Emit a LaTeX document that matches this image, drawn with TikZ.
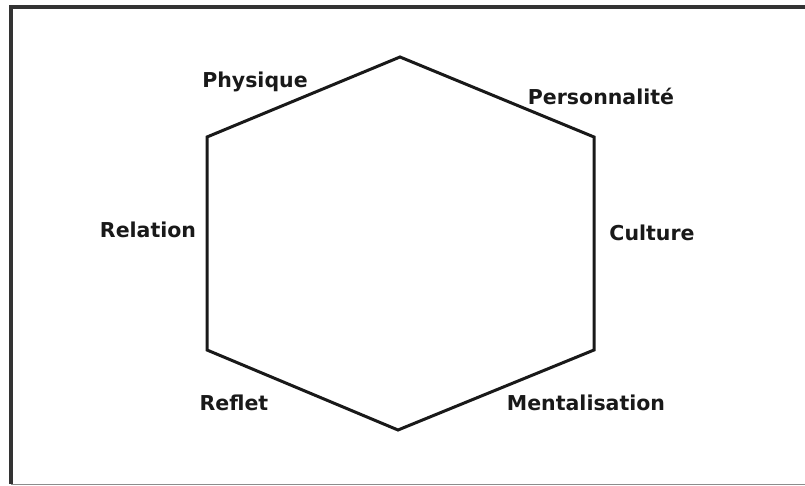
\documentclass[tikz,border=0pt]{standalone}
\usepackage{fontspec}
\setmainfont{DejaVu Sans}
\usepackage{tikz}
\usetikzlibrary{positioning}

\begin{document}
\begin{tikzpicture}[x=1pt, y=-1pt, very thick]
  \tikzset{
    label/.style={font=\bfseries\fontsize{20.5}{24}\selectfont, text=black!90, inner sep=0pt},
    hexline/.style={line width=3pt, line join=miter, draw=black!90},
  }
  \useasboundingbox (0,0) rectangle (805,486);

  % cadre
  \draw[line width=3.6pt, black!80] (11,484) -- (11,7) -- (805,7);
  \draw[line width=1.5pt, black!45] (11,484.5) -- (805,484.5);

  % sommets de l'hexagone
  \coordinate (T)  at (400,57);
  \coordinate (UR) at (594,137);
  \coordinate (LR) at (594,350);
  \coordinate (B)  at (398,430);
  \coordinate (LL) at (207,350);
  \coordinate (UL) at (207,137);

  \draw[hexline] (T) -- (UR) -- (LR) -- (B) -- (LL) -- (UL) -- cycle;

  % dimensions
  \node[label] (phys) at (255,82)  {Physique};
  \node[label] (pers) at (601,96)  {Personnalité};
  \node[label] (cult) at (652,233) {Culture};
  \node[label] (rela) at (148,230) {Relation};
  \node[label] (refl) at (234,403) {Reflet};
  \node[label] (ment) at (586,403) {Mentalisation};
\end{tikzpicture}
\end{document}
